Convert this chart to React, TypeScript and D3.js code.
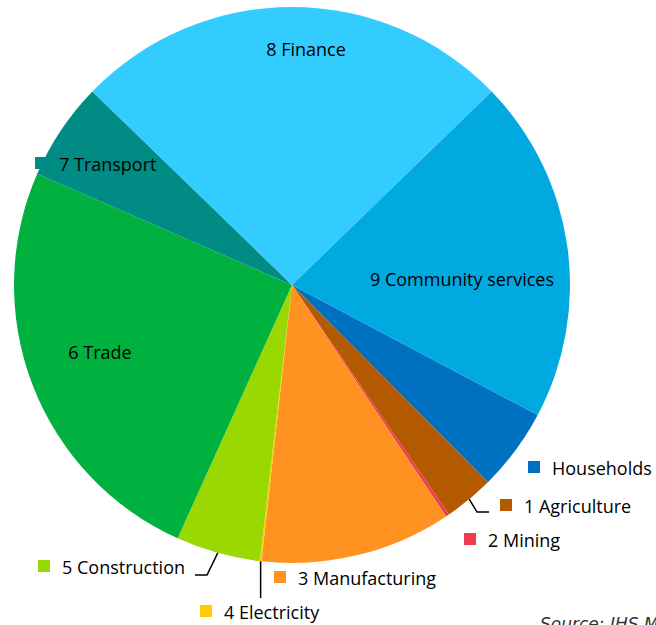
import React from "react";
import * as d3 from "d3";

const categories = [
  "Households",
  "1 Agriculture",
  "2 Mining",
  "3 Manufacturing",
  "4 Electricity",
  "5 Construction",
  "6 Trade",
  "7 Transport",
  "8 Finance",
  "9 Community services",
];
const shares = [4.8, 2.9, 0.2, 11.1, 0.1, 4.9, 24.8, 5.7, 25.5, 20.0];
const colors = [
  "#0070C0",
  "#B35A00",
  "#F03A50",
  "#FF9220",
  "#FFCC00",
  "#99D800",
  "#00B140",
  "#008C84",
  "#33CCFF",
  "#00A9E0",
];

// label layout (text anchor positions); kind: inside = centered text, legend = marker + text
type Lab = { kind: "inside" | "legend"; x: number; y: number; leader?: [number, number][] };
const labelLayout: Lab[] = [
  { kind: "legend", x: 552, y: 475 },
  { kind: "legend", x: 524, y: 513, leader: [[477, 512], [489, 512]] },
  { kind: "legend", x: 488, y: 547 },
  { kind: "legend", x: 298, y: 585 },
  { kind: "legend", x: 224, y: 619, leader: [[NaN, 598]] },
  { kind: "legend", x: 62, y: 574, leader: [[207, 575], [195, 575]] },
  { kind: "inside", x: 100, y: 359 },
  { kind: "legend", x: 59, y: 171 },
  { kind: "inside", x: 306, y: 56 },
  { kind: "inside", x: 462, y: 286 },
];

const sourceText = "Source: IHS Markit";

const W = 656;
const H = 625;
const cx = 292;
const cy = 285;
const R = 278;
const startDeg = 117.9;
const FONT = "'Open Sans', sans-serif";

export default function App() {
  const data = categories.map((c, i) => ({ c, v: shares[i], i }));
  const start = (startDeg * Math.PI) / 180;
  const pie = d3
    .pie<any>()
    .sort(null)
    .value((d) => d.v)
    .startAngle(start)
    .endAngle(start + 2 * Math.PI);
  const arcs = pie(data);
  const arc = d3.arc<any>().innerRadius(0).outerRadius(R);

  return (
    <svg
      width={W}
      height={H}
      style={{ position: "absolute", left: 0, top: 0, background: "#fff" }}
      fontFamily={FONT}
    >
      <g transform={`translate(${cx},${cy})`}>
        {arcs.map((a) => (
          <path key={a.data.c} d={arc(a) || ""} fill={colors[a.data.i]} />
        ))}
      </g>
      {arcs.map((a) => {
        const lab = labelLayout[a.data.i];
        if (!lab.leader) return null;
        const mid = (a.startAngle + a.endAngle) / 2;
        const sx = cx + R * Math.sin(mid);
        const sy = cy - R * Math.cos(mid);
        const pts: [number, number][] = [[sx, sy]];
        lab.leader.forEach(([x, y]) => pts.push([isNaN(x) ? sx : x, y]));
        const line = d3.line();
        return (
          <path
            key={"l" + a.data.c}
            d={line(pts) || ""}
            fill="none"
            stroke="#000"
            strokeWidth={1.5}
          />
        );
      })}
      {arcs.map((a) => {
        const lab = labelLayout[a.data.i];
        if (lab.kind === "inside") {
          return (
            <text
              key={"t" + a.data.c}
              x={lab.x}
              y={lab.y}
              textAnchor="middle"
              fontSize={18}
              fill="#000"
            >
              {a.data.c}
            </text>
          );
        }
        return (
          <g key={"t" + a.data.c}>
            <rect
              x={lab.x - 24}
              y={lab.y - 14}
              width={12}
              height={12}
              fill={colors[a.data.i]}
            />
            <text x={lab.x} y={lab.y} fontSize={18} fill="#000">
              {a.data.c}
            </text>
          </g>
        );
      })}
      <text
        x={540}
        y={629.5}
        fontSize={17}
        fontStyle="italic"
        fontFamily="'DejaVu Sans', sans-serif"
        fill="#333"
      >
        {sourceText}
      </text>
    </svg>
  );
}
